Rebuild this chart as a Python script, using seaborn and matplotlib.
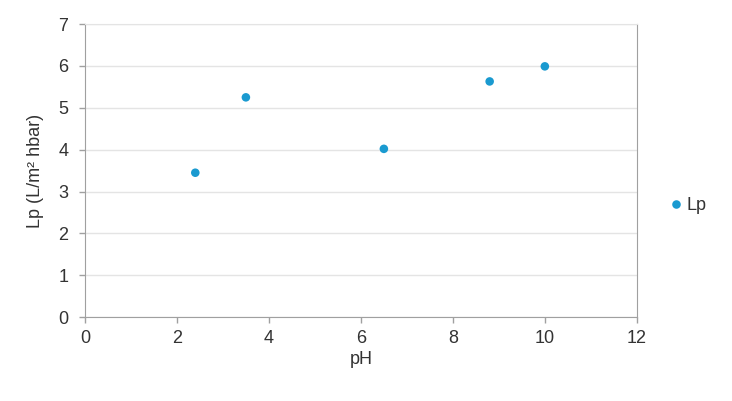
import numpy as np
import pandas as pd
import seaborn as sns
import matplotlib.pyplot as plt

# Data
ph = [2.4, 3.5, 6.5, 8.8, 10.0]
lp = [3.45, 5.25, 4.02, 5.63, 5.99]
series = ['Lp'] * len(ph)

df = pd.DataFrame({'pH': ph, 'Lp': lp, 'series': series})

sns.set_style('white')
plt.rcParams['font.family'] = ['Liberation Sans', 'DejaVu Sans']

fig = plt.figure(figsize=(7.32, 4.01), dpi=100)
ax = fig.add_axes([0.116, 0.209, 0.754, 0.731])

sns.scatterplot(data=df, x='pH', y='Lp', hue='series', palette=['#1a9ad0'],
                s=38, edgecolor='none', ax=ax, zorder=3)

ax.set_xlim(0, 12)
ax.set_ylim(0, 7)
ax.set_xticks(range(0, 13, 2))
ax.set_yticks(range(0, 8))
ax.yaxis.grid(True, color='#e4e4e4', linewidth=1)
ax.set_axisbelow(True)
for side in ['left', 'bottom', 'right']:
    ax.spines[side].set_color('#a0a0a0')
ax.spines['top'].set_color('#e4e4e4')
ax.tick_params(axis='both', which='both', direction='out', length=4, width=1,
               color='#a0a0a0', labelsize=13, labelcolor='#333333')
ax.tick_params(axis='y', pad=8)
ax.tick_params(axis='x', pad=5)
ax.tick_params(left=True, bottom=True)
ax.set_xlabel('pH', fontsize=13, color='#333333', labelpad=3)
ax.set_ylabel('Lp (L/m² hbar)', fontsize=13, color='#333333', labelpad=10)

leg = ax.legend(loc='center left', bbox_to_anchor=(1.025, 0.38), frameon=False,
                fontsize=13, handletextpad=0.1, markerscale=1.0, handlelength=1.0)
for t in leg.get_texts():
    t.set_color('#333333')

fig.savefig('out.png', dpi=100)
